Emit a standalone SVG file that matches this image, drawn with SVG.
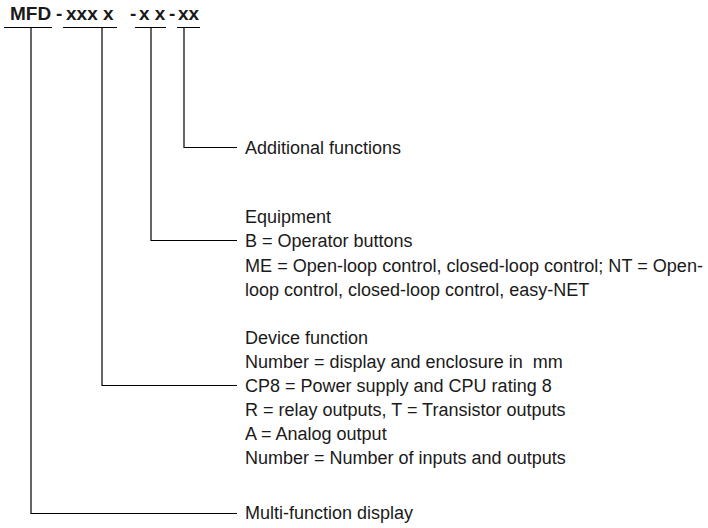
<svg xmlns="http://www.w3.org/2000/svg" width="708" height="528" viewBox="0 0 708 528">
<style>
.t{font-family:"Liberation Sans",Arial,sans-serif;font-size:18px;fill:#1a1a1a}
.h{font-family:"Liberation Sans",Arial,sans-serif;font-size:19px;font-weight:bold;fill:#1a1a1a}
.l{fill:none;stroke:#000;stroke-width:1.2}
</style>
<rect width="708" height="528" fill="#fff"/>
<g id="title">
<text class="h" y="20"><tspan x="10">MFD</tspan><tspan x="56">-</tspan><tspan x="66">xxx x</tspan><tspan x="130">-</tspan><tspan x="139">x x</tspan><tspan x="169">-</tspan><tspan x="178">xx</tspan></text>
</g>
<g id="connectors">
<path class="l" d="M4 27.5H52M63 27.5H117M135 27.5H166M177 27.5H200"/>
<path class="l" d="M184 27.5V147.5H237"/>
<path class="l" d="M151 27.5V240.5H237"/>
<path class="l" d="M102 27.5V385.5H237"/>
<path class="l" d="M31 27.5V513.5H237"/>
</g>
<g id="additional">
<text class="t" x="245" y="154">Additional functions</text>
</g>
<g id="equipment">
<text class="t" x="245" y="223">Equipment</text>
<text class="t" x="245" y="247">B = Operator buttons</text>
<text class="t" x="245" y="272" textLength="458" lengthAdjust="spacingAndGlyphs">ME = Open-loop control, closed-loop control; NT = Open-</text>
<text class="t" x="245" y="296">loop control, closed-loop control, easy-NET</text>
</g>
<g id="device">
<text class="t" x="245" y="344">Device function</text>
<text class="t" x="245" y="368" xml:space="preserve">Number = display and enclosure in  mm</text>
<text class="t" x="245" y="392">CP8 = Power supply and CPU rating 8</text>
<text class="t" x="245" y="416">R = relay outputs, T = Transistor outputs</text>
<text class="t" x="245" y="440">A = Analog output</text>
<text class="t" x="245" y="464">Number = Number of inputs and outputs</text>
</g>
<g id="mfd">
<text class="t" x="245" y="519">Multi-function display</text>
</g>
</svg>
